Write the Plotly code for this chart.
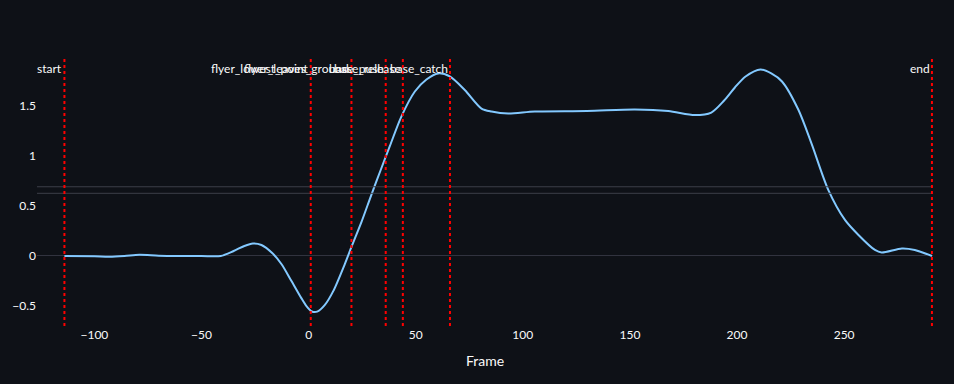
import plotly.graph_objects as go

frames = [-114, -100, -93, -86, -79, -70, -60, -50, -41, -35, -30, -26, -22, -17,
          -12.7, -8, -3.4, -1, 1.5, 4, 7.5, 11.5, 16.9, 20, 24.7, 29.3, 33.7, 38,
          43.3, 49.6, 55, 60.5, 65.9, 72.9, 80.7, 85.4, 93.2, 105.6, 130, 152.3,
          167.9, 180.3, 188, 194, 199, 204, 211, 216, 221, 228.6, 234.8, 242.6,
          250.4, 256.7, 264.4, 267.5, 277, 283, 291]
values = [0.0, -0.003, -0.007, 0.0, 0.012, 0.003, 0.0, 0.0, 0.0, 0.05, 0.10, 0.125,
          0.11, 0.03, -0.08, -0.25, -0.42, -0.50, -0.553, -0.555, -0.49, -0.35,
          -0.08, 0.09, 0.34, 0.61, 0.86, 1.1, 1.39, 1.64, 1.76, 1.82, 1.79, 1.655,
          1.47, 1.44, 1.42, 1.44, 1.445, 1.46, 1.445, 1.405, 1.43, 1.55, 1.68, 1.79,
          1.86, 1.82, 1.74, 1.46, 1.12, 0.66, 0.36, 0.21, 0.06, 0.035, 0.075, 0.06,
          0.0]

event_frames = [-114, 1, 20, 36, 44, 66, 291]
event_labels = ["start", "flyer_lowest_point", "flyer_leaves_ground", "base_push",
                "base_release", "base_catch", "end"]

threshold_values = [0.69, 0.625]

FONT = "Source Sans Pro, Lato, sans-serif"
TXT = "#FAFAFA"

fig = go.Figure()
fig.add_trace(go.Scatter(x=frames, y=values, mode="lines",
                         line=dict(color="#83C9FF", width=2, shape="spline", smoothing=0.8),
                         showlegend=False, hoverinfo="x+y"))

for t in threshold_values:
    fig.add_hline(y=t, line=dict(color="#3D3F49", width=1))

for f, lab in zip(event_frames, event_labels):
    fig.add_vline(x=f, line=dict(color="red", width=2, dash="dot"),
                  annotation_text=lab, annotation_position="top left",
                  annotation_font=dict(color=TXT, size=12, family=FONT))

fig.update_layout(
    width=954, height=384,
    paper_bgcolor="#0E1117", plot_bgcolor="#0E1117",
    font=dict(family=FONT, color=TXT, size=12),
    margin=dict(l=35, r=21, t=59, b=58),
    showlegend=False,
    xaxis=dict(title=dict(text="Frame", font=dict(size=14, color=TXT)),
               range=[-126.8, 291.5], showgrid=False, zeroline=False,
               tickfont=dict(color=TXT, size=12), tickvals=[-100, -50, 0, 50, 100, 150, 200, 250]),
    yaxis=dict(range=[-0.698, 1.964], showgrid=False, zeroline=True,
               zerolinecolor="#31333F", zerolinewidth=1,
               tickvals=[-0.5, 0, 0.5, 1, 1.5], ticktext=["−0.5", "0", "0.5", "1", "1.5"],
               tickfont=dict(color=TXT, size=12)),
)

fig.write_html("out.html")
